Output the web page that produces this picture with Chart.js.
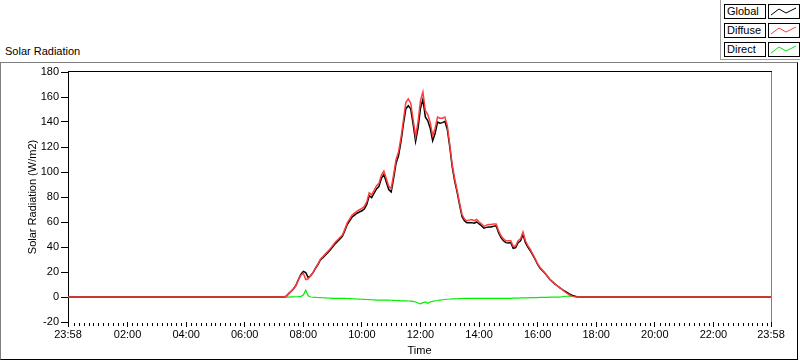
<!DOCTYPE html>
<html>
<head>
<meta charset="utf-8">
<script src="https://cdn.jsdelivr.net/npm/chart.js@4.4.1/dist/chart.umd.min.js"></script>
<style>
  body { margin: 0; width: 800px; height: 361px; background: #fff; position: relative; overflow: hidden;
         font-family: "Liberation Sans", Arial, sans-serif; font-size: 11px; color: #000; }
  #title { position: absolute; left: 5px; top: 45px; }
  #frame { position: absolute; left: 0; top: 62px; width: 796px; height: 296px;
           border-top: 1px solid #808080; border-left: 1px solid #808080;
           border-right: 1px solid #000; border-bottom: 1px solid #000; }
  #chart { position: absolute; left: 0; top: 0; }
  #legend { position: absolute; left: 720px; top: 0; width: 80px; height: 59px;
            border-left: 1px solid #a0a0a0; border-bottom: 1px solid #a0a0a0; background: #fff; }
  .row { position: absolute; left: 3px; height: 15px; }
  .name { position: absolute; left: 0; top: 0; width: 38px; height: 13px; border: 1px solid #000;
          line-height: 13px; padding-left: 2px; }
  .swatch { position: absolute; left: 44px; top: 0; width: 30px; height: 13px; border: 1px solid #000; }
</style>
</head>
<body>
<div id="title">Solar Radiation</div>
<div id="frame"></div>
<canvas id="chart" width="800" height="361"></canvas>
<div id="legend"></div>
<script>
/* minutes of the day; -2 is 23:58 of the previous day */
var minutes = [-2,
  440,445,450,455,460,465,470,475,480,485,
  490,495,500,505,510,515,520,525,530,535,
  540,545,550,555,560,565,570,575,580,585,
  590,595,600,605,610,615,620,625,630,635,
  640,645,650,655,660,665,670,675,680,685,
  690,695,700,705,710,715,720,725,730,735,
  740,745,750,755,760,765,770,775,780,785,
  790,795,800,805,810,815,820,825,830,835,
  840,845,850,855,860,865,870,875,880,885,
  890,895,900,905,910,915,920,925,930,935,
  940,945,950,955,960,965,970,975,980,985,
  990,995,1000,1005,1010,1015,1020,1025,1030,1035,
  1040,1045,
  1438];

var globalRad = [0,
  0,0.6,2.7,4.6,6.6,9.3,14,18,20.5,19.5,
  15.5,17,19.5,23,26,29.6,31.5,33.5,35.5,37.5,
  40,42.5,44.5,46.5,48.5,53,58,61,64,65.5,
  67,68,69,70.5,74,81,79.5,83,86.5,88.5,
  95,98,92,86,84,95,107,113,124,138,
  150.5,153,150.5,138,124.5,135,151,158,144,141,
  135,125,131,140,139,139.5,140.5,134,120,104,
  93,84,74,64.5,61,59.5,59.5,59.5,59,60,
  58.5,57,55,55.7,56,56,56.7,57,51.5,47.5,
  45,43.5,43.3,43.5,39,39.5,43.5,45,50,43.5,
  40,37,33.5,30,26,23,21,19,16.5,14,
  12.3,10.5,9,7.5,6.2,4.8,3.6,2.5,1.5,0.8,
  0.2,0,
  0];

var diffuseRad = [0,
  0,0.6,2.7,4.5,6.5,9.1,13.7,17.5,19,14,
  14.5,17,19.7,23.3,26.5,30.2,32.2,34.3,36.4,38.5,
  41,43.6,45.6,47.6,49.6,54.2,59.3,62.4,65.5,67.1,
  68.7,69.8,70.9,72.5,76.2,83.3,81.8,85.4,89,91,
  97.6,100.8,94.6,88.6,86.7,97.8,110,116,127.2,141.4,
  155.5,158.5,155,142,128.5,140,157,164,149,146,
  139.5,129,135,144,143,143,144,137,122,106,
  94.8,85.5,75.5,66,62.5,61,61.5,62,61,62,
  60,58.5,56.5,57.5,58,58,58.5,58.5,53,49,
  46.5,45,45,45,40.5,41,45,46.5,52,45,
  41,38,34.3,30.7,26.6,23.5,21.4,19.3,16.8,14.2,
  12.4,10.5,9,7.5,6,4.4,3,1.7,0.7,0.3,
  0,0,
  0];

var directRad = [0,
  0,0,0,0.1,0.1,0.2,0.3,0.5,1.5,5.5,
  1,0,-0.2,-0.3,-0.4,-0.5,-0.6,-0.7,-0.8,-0.9,
  -1,-1,-1,-1,-1,-1.1,-1.2,-1.3,-1.4,-1.5,
  -1.6,-1.7,-1.8,-1.9,-2,-2.1,-2.2,-2.3,-2.4,-2.4,
  -2.5,-2.5,-2.5,-2.5,-2.6,-2.7,-2.8,-2.9,-3,-3,
  -3,-3.2,-3.3,-3.5,-4,-4.8,-5.5,-4.5,-4,-5,
  -4,-3.5,-3,-2.8,-2.5,-2.2,-2,-1.8,-1.6,-1.5,
  -1.5,-1.4,-1.3,-1.2,-1.1,-1,-1,-1,-1,-1,
  -1,-1,-1,-1,-1,-1,-1,-1,-1,-1,
  -1,-1,-1,-1,-0.9,-0.8,-0.8,-0.7,-0.7,-0.6,
  -0.6,-0.5,-0.5,-0.4,-0.4,-0.3,-0.3,-0.2,-0.2,-0.1,
  -0.1,0,0,0,0.2,0.4,0.6,0.8,0.8,0.5,
  0.2,0,
  0];

var xTickValues = [-2, 120, 240, 360, 480, 600, 720, 840, 960, 1080, 1200, 1320, 1438];
var xTickLabels = ['23:58','02:00','04:00','06:00','08:00','10:00','12:00','14:00','16:00','18:00','20:00','22:00','23:58'];

var seriesNames = ['Global', 'Diffuse', 'Direct'];
var seriesColors = ['#000000', '#ff3c3c', '#00ee00'];

/* legenda w stylu LabVIEW */
var legend = document.getElementById('legend');
seriesNames.forEach(function (name, i) {
    var row = document.createElement('div');
    row.className = 'row';
    row.style.top = (4 + i * 19) + 'px';
    row.innerHTML = '<div class="name">' + name + '</div>' +
        '<div class="swatch"><svg width="30" height="13"><polyline points="2,10 10,4 17,8 27,3" fill="none" stroke="' +
        seriesColors[i] + '" stroke-width="1"/></svg></div>';
    legend.appendChild(row);
});

function points(values) {
    return values.map(function (v, i) { return {x: minutes[i], y: v}; });
}

/* ramka pola wykresu i drobne podziałki osi X */
var framePlugin = {
    id: 'frame',
    afterDraw: function (chart) {
        var c = chart.ctx, a = chart.chartArea, xs = chart.scales.x;
        c.save();
        c.lineWidth = 1;
        c.strokeStyle = '#000';
        c.beginPath();
        c.moveTo(a.left, a.top - 0.5);
        c.lineTo(a.right + 1, a.top - 0.5);
        c.stroke();
        c.strokeStyle = '#808080';
        c.beginPath();
        c.moveTo(a.right + 0.5, a.top);
        c.lineTo(a.right + 0.5, a.bottom);
        c.stroke();
        c.strokeStyle = '#000';
        c.beginPath();
        for (var m = 10; m < 1438; m += 10) {
            if (m % 120 === 0) continue;
            var px = Math.round(xs.getPixelForValue(m)) + 0.5;
            c.moveTo(px, a.bottom + 1);
            c.lineTo(px, a.bottom + 4);
        }
        c.stroke();
        c.restore();
    }
};

Chart.defaults.font.family = '"Liberation Sans", Arial, sans-serif';
Chart.defaults.font.size = 11;
Chart.defaults.color = '#000';

var ctx = document.getElementById('chart');
var chart = new Chart(ctx, {
    type: 'line',
    data: {
        datasets: [
            { label: 'Global', data: points(globalRad), borderColor: seriesColors[0], borderWidth: 1.5, order: 1 },
            { label: 'Diffuse', data: points(diffuseRad), borderColor: seriesColors[1], borderWidth: 1.5, order: 0 },
            { label: 'Direct', data: points(directRad), borderColor: seriesColors[2], borderWidth: 1.25, order: 2 }
        ]
    },
    options: {
        responsive: false,
        maintainAspectRatio: false,
        animation: false,
        layout: { padding: { left: 0, right: 29, top: 72, bottom: 0 } },
        elements: {
            point: { radius: 0 },
            line: { tension: 0 }
        },
        plugins: {
            legend: { display: false },
            tooltip: { enabled: false }
        },
        scales: {
            x: {
                type: 'linear',
                min: -2,
                max: 1438,
                afterBuildTicks: function (s) {
                    s.ticks = xTickValues.map(function (v) { return {value: v}; });
                },
                afterFit: function (s) { s.height = 39; },
                border: { display: false },
                grid: { drawOnChartArea: false, tickLength: 5, tickColor: '#000' },
                ticks: {
                    autoSkip: false,
                    maxRotation: 0,
                    padding: 1,
                    callback: function (v) {
                        var i = xTickValues.indexOf(v);
                        return i >= 0 ? xTickLabels[i] : '';
                    }
                },
                title: { display: true, text: 'Time', padding: { top: 0, bottom: 3 } }
            },
            y: {
                min: -20,
                max: 180,
                afterFit: function (s) { s.width = 68; },
                border: { display: true, color: '#000' },
                grid: { drawOnChartArea: false, tickLength: 7, tickColor: '#000' },
                ticks: { stepSize: 20, padding: 2 },
                title: { display: true, text: 'Solar Radiation (W/m2)', padding: { top: 26, bottom: 0 } }
            }
        }
    },
    plugins: [framePlugin]
});
</script>
</body>
</html>
